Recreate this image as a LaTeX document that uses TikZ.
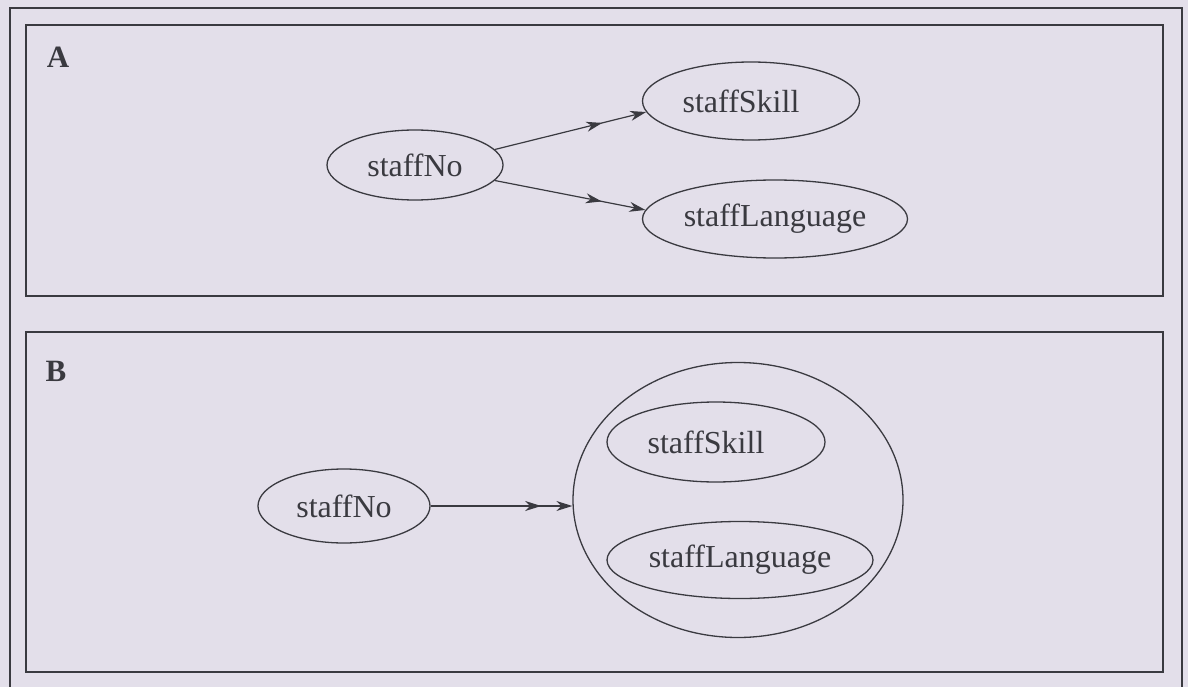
\documentclass[tikz,border=0pt]{standalone}
\usepackage{fontspec}
\setmainfont{Liberation Serif}
\usetikzlibrary{shapes.geometric,arrows.meta,decorations.markings}
\definecolor{paper}{HTML}{E3DFEA}
\definecolor{ink}{HTML}{3A3A40}
\tikzset{
  frame/.style={draw=ink, line width=1.4pt},
  attr/.style={ellipse, draw=ink, line width=1.3pt, inner sep=0pt, text=ink, font=\fontsize{32}{34}\selectfont},
  lbl/.style={text=ink, font=\bfseries\fontsize{31}{33}\selectfont, inner sep=0pt},
  dep/.style={draw=ink, line width=1.2pt, -{Stealth[length=16pt,width=10pt,inset=5pt]},
    postaction={decorate, decoration={markings, mark=at position #1 with {\arrow{Stealth[length=16pt,width=10pt,inset=5pt]}}}}}
}
\begin{document}
\begin{tikzpicture}[x=1pt,y=-1pt]
\fill[paper] (0,0) rectangle (1188,687);
\useasboundingbox (0,0) rectangle (1188,687);
\draw[frame] (10,687) -- (10,8) -- (1182,8) -- (1182,687);
% Box A
\draw[frame] (26,25) rectangle (1163,296);
\node[lbl] (la) at (58,57) {A};
\node[attr, minimum width=176pt, minimum height=70pt] (noA) at (415,165) {staffNo};
\node[attr, minimum width=217pt, minimum height=78pt] (skillA) at (751,101) {staffSkill\hspace*{20pt}};
\node[attr, minimum width=265pt, minimum height=78pt] (langA) at (775,219) {staffLanguage};
\draw[dep=0.71] (noA.11) -- (skillA.186);
\draw[dep=0.71] (noA.-11) -- (langA.176);
% Box B
\draw[frame] (26,332) rectangle (1163,672);
\node[lbl] (lb) at (56,371) {B};
\node[attr, minimum width=172pt, minimum height=74pt] (noB) at (344,506) {staffNo};
\node[ellipse, draw=ink, line width=1.3pt, minimum width=330pt, minimum height=275pt] (grp) at (738,500) {};
\node[attr, minimum width=218pt, minimum height=80pt] (skillB) at (716,442) {staffSkill\hspace*{20pt}};
\node[attr, minimum width=266pt, minimum height=77pt] (langB) at (740,560) {staffLanguage};
\draw[dep=0.78] (noB.east) -- (noB.east -| grp.west);
\end{tikzpicture}
\end{document}
